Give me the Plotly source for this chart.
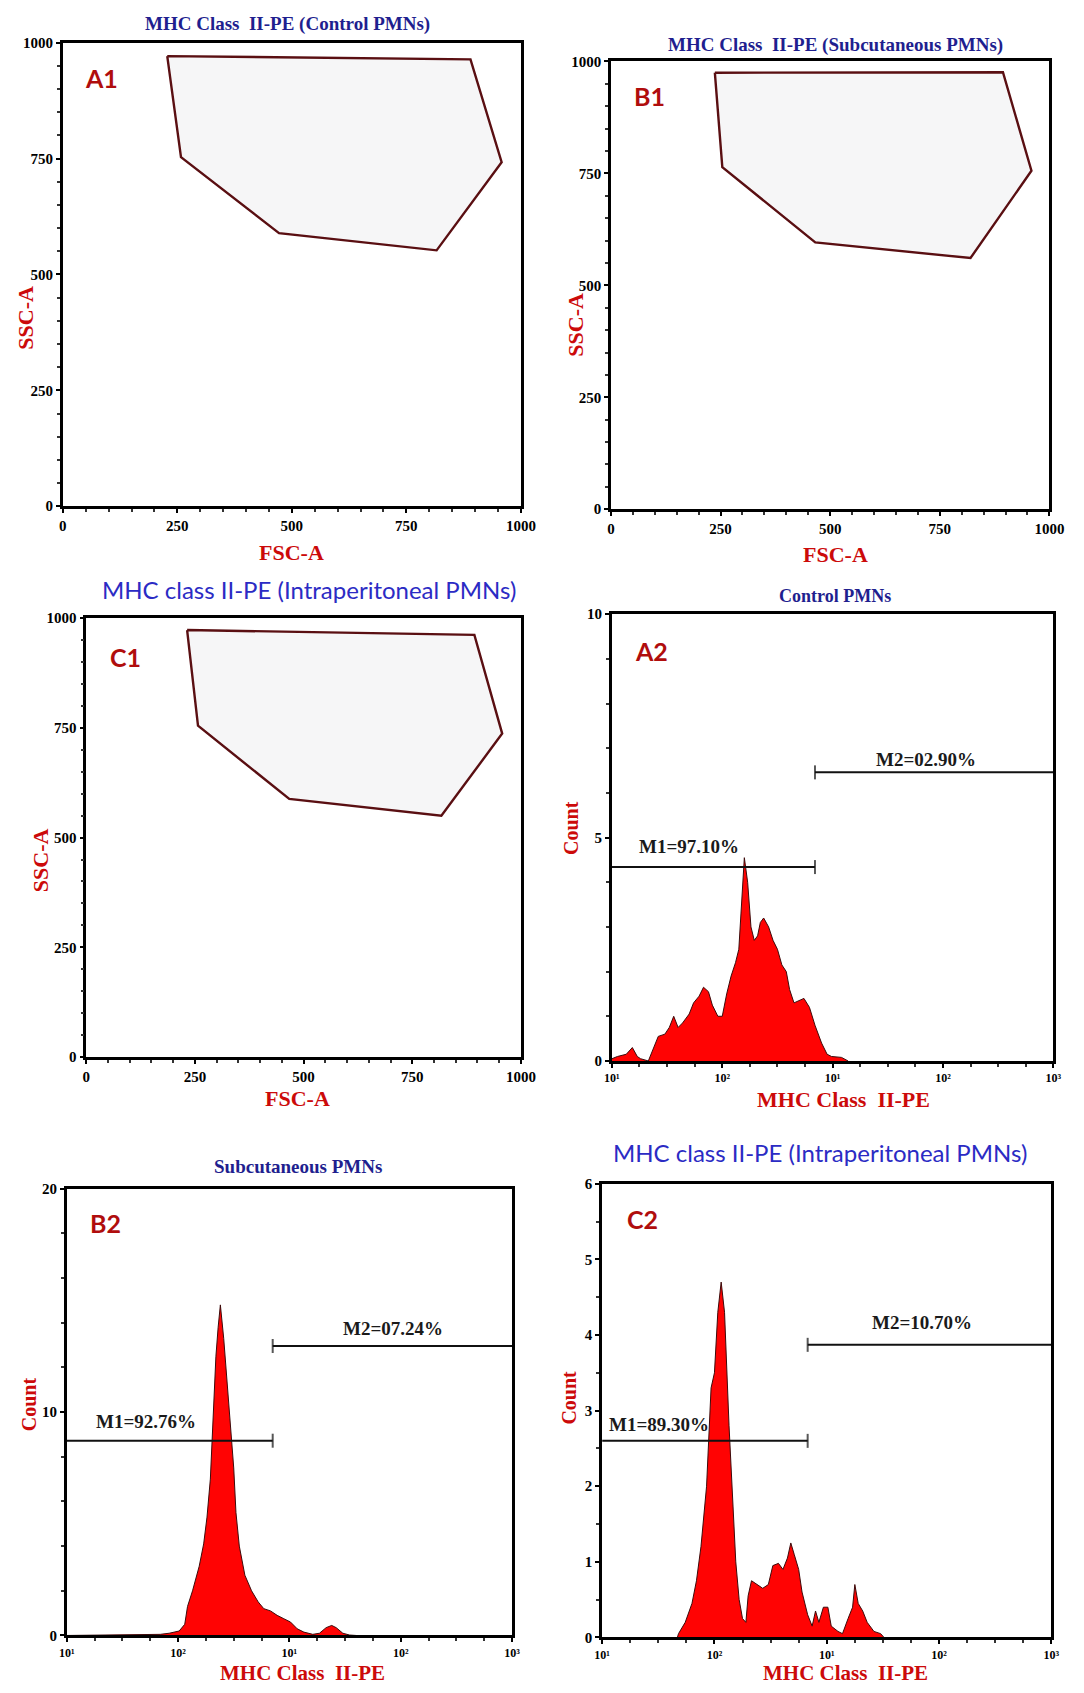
import plotly.graph_objects as go

W, H = 1084, 1693

# ---------------- data ----------------
fsc_ticks = [0, 250, 500, 750, 1000]
ssc_ticks = [0, 250, 500, 750, 1000]

gate_a1_fsc = [228, 890, 958, 816, 472, 258, 228]
gate_a1_ssc = [971, 964, 742, 552, 589, 753, 971]
gate_b1_fsc = [237, 894, 959, 820, 466, 254, 237]
gate_b1_ssc = [975, 976, 756, 561, 596, 764, 975]
gate_c1_fsc = [232, 893, 957, 817, 467, 257, 232]
gate_c1_ssc = [973, 962, 737, 550, 588, 755, 973]

hist_tick_pos = [0, 1, 2, 3, 4]
hist_tick_text = ["10¹", "10²", "10¹", "10²", "10³"]

a2_decade = [0, 0.05, 0.13, 0.185, 0.23, 0.26, 0.33, 0.376, 0.42, 0.48, 0.52, 0.56, 0.6, 0.64,
             0.7, 0.74, 0.79, 0.83, 0.875, 0.91, 0.96, 1.0, 1.04, 1.08, 1.12, 1.15, 1.18, 1.2,
             1.23, 1.26, 1.29, 1.32, 1.345, 1.375, 1.42, 1.46, 1.5, 1.54, 1.58, 1.61, 1.65,
             1.7, 1.74, 1.79, 1.84, 1.9, 1.95, 1.99, 2.08, 2.14]
a2_count = [0.05, 0.1, 0.15, 0.3, 0.1, 0.05, 0, 0.3, 0.55, 0.6, 0.75, 1.0, 0.75, 0.85,
            1.05, 1.3, 1.45, 1.65, 1.55, 1.25, 1.0, 1.0, 1.5, 1.9, 2.2, 2.5, 3.6, 4.55,
            4.0, 3.0, 2.7, 2.8, 3.1, 3.2, 3.0, 2.7, 2.5, 2.15, 2.0, 1.6, 1.3,
            1.35, 1.4, 1.2, 0.8, 0.4, 0.15, 0.1, 0.08, 0]

b2_decade = [0, 0.84, 0.92, 1.01, 1.06, 1.085, 1.13, 1.19, 1.23, 1.26, 1.29, 1.32, 1.34, 1.36,
             1.38, 1.41, 1.44, 1.47, 1.5, 1.52, 1.55, 1.6, 1.66, 1.72, 1.77, 1.83, 1.89,
             1.95, 2.01, 2.07, 2.13, 2.21, 2.27, 2.33, 2.38, 2.42, 2.48, 2.54, 2.6]
b2_count = [0, 0.05, 0.1, 0.2, 0.5, 1.3, 2.0, 3.1, 4.1, 5.3, 7.0, 10.0, 12.5, 13.8,
            14.8, 13.3, 11.5, 9.5, 7.5, 5.5, 4.0, 2.7, 2.0, 1.5, 1.2, 1.1, 0.9,
            0.75, 0.6, 0.3, 0.15, 0.05, 0.1, 0.35, 0.45, 0.35, 0.1, 0.02, 0]

c2_decade = [0.67, 0.68, 0.74, 0.8, 0.84, 0.88, 0.93, 0.97, 1.0, 1.03, 1.06, 1.09, 1.13, 1.16,
             1.19, 1.22, 1.25, 1.28, 1.3, 1.33, 1.38, 1.43, 1.48, 1.52, 1.57, 1.61, 1.65,
             1.68, 1.71, 1.75, 1.78, 1.83, 1.87, 1.9, 1.93, 1.97, 2.01, 2.04, 2.1, 2.14,
             2.19, 2.23, 2.25, 2.28, 2.32, 2.36, 2.42, 2.48, 2.51]
c2_count = [0, 0.05, 0.2, 0.45, 0.75, 1.2, 2.0, 3.3, 3.5, 4.3, 4.7, 4.3, 2.8, 1.8,
            1.0, 0.5, 0.25, 0.2, 0.55, 0.75, 0.7, 0.65, 0.7, 0.95, 0.98, 0.9, 1.05,
            1.25, 1.1, 0.9, 0.6, 0.3, 0.15, 0.35, 0.2, 0.4, 0.4, 0.15, 0.08, 0.05,
            0.25, 0.4, 0.7, 0.45, 0.35, 0.2, 0.08, 0.05, 0]

# marker gates: [start, end] in decades, height in counts, label
a2_m1 = ([0, 1.84], 4.34, "M1=97.10%")
a2_m2 = ([1.84, 4], 6.46, "M2=02.90%")
b2_m1 = ([0, 1.85], 8.72, "M1=92.76%")
b2_m2 = ([1.85, 4], 12.96, "M2=07.24%")
c2_m1 = ([0, 1.83], 2.60, "M1=89.30%")
c2_m2 = ([1.83, 4], 3.87, "M2=10.70%")

# ---------------- styles ----------------
SERIF = "Liberation Serif"
SANS = "Lato"
TITLE_NAVY = "#1f1f8f"
TITLE_BLUE = "#2b2bc4"
AX_RED = "#cc0a0a"
LABEL_RED = "#b00d0d"
GATE = "#5a0f12"
HIST_FILL = "#ff0303"
HIST_EDGE = "#3c0a0a"


def px_x(p):
    return p / W


def px_y(p):
    return 1 - p / H


# panel boxes in pixels: x0, x1, y0(top), y1(bottom)
boxes = {
    "A1": (56, 524, 35, 503),
    "B1": (616, 1064, 54, 506),
    "C1": (80, 524, 616, 1059),
    "A2": (617, 1068, 612, 1063),
    "B2": (60, 515, 1192, 1643),
    "C2": (607, 1066, 1187, 1645),
}
order = ["A1", "B1", "C1", "A2", "B2", "C2"]

fig = go.Figure()
layout = dict(width=W, height=H, margin=dict(l=0, r=0, t=0, b=0),
              paper_bgcolor="white", plot_bgcolor="white", showlegend=False)

annotations = []


def add_ann(text, x, y, size, color, family, bold=True, angle=0):
    annotations.append(dict(text=("<b>%s</b>" % text) if bold else text,
                            x=px_x(x), y=px_y(y), xref="paper", yref="paper",
                            showarrow=False, xanchor="center", yanchor="middle",
                            textangle=angle,
                            font=dict(family=family, size=size, color=color)))


def bold_list(vals):
    return ["<b>%s</b>" % v for v in vals]


for i, key in enumerate(order):
    n = "" if i == 0 else str(i + 1)
    x0, x1, y0, y1 = boxes[key]
    is_scatter = key.endswith("1")
    common = dict(showline=True, linecolor="black", linewidth=2.6, mirror=True,
                  showgrid=False, zeroline=False, ticks="outside", ticklen=4,
                  tickwidth=1.5, tickcolor="black",
                  tickfont=dict(family=SERIF, size=15 if is_scatter else 12, color="black"))
    if is_scatter:
        xa = dict(common, domain=[px_x(x0), px_x(x1)], range=[0, 1000],
                  tickmode="array", tickvals=fsc_ticks, ticktext=bold_list(fsc_ticks),
                  minor=dict(dtick=50, ticklen=3, tickcolor="#333", ticks="outside"),
                  anchor="y" + n)
        ya = dict(common, domain=[px_y(y1), px_y(y0)], range=[0, 1000],
                  tickmode="array", tickvals=ssc_ticks, ticktext=bold_list(ssc_ticks),
                  minor=dict(dtick=50, ticklen=3, tickcolor="#333", ticks="outside"),
                  anchor="x" + n)
    else:
        ymax = {"A2": 10, "B2": 20, "C2": 6}[key]
        ytv = {"A2": [0, 5, 10], "B2": [0, 10, 20], "C2": [0, 1, 2, 3, 4, 5, 6]}[key]
        ymin_dt = {"A2": 1, "B2": 2, "C2": 0.5}[key]
        xa = dict(common, domain=[px_x(x0), px_x(x1)], range=[0, 4],
                  tickmode="array", tickvals=hist_tick_pos, ticktext=bold_list(hist_tick_text),
                  minor=dict(dtick=0.25, ticklen=3, tickcolor="#333", ticks="outside"),
                  anchor="y" + n)
        ya = dict(common, domain=[px_y(y1), px_y(y0)], range=[0, ymax],
                  tickmode="array", tickvals=ytv, ticktext=bold_list(ytv),
                  tickfont=dict(family=SERIF, size=15, color="black"),
                  minor=dict(dtick=ymin_dt, ticklen=3, tickcolor="#333", ticks="outside"),
                  anchor="x" + n)
    layout["xaxis" + n] = xa
    layout["yaxis" + n] = ya

# ---------------- gates (scatter panels) ----------------
gates = {"A1": (gate_a1_fsc, gate_a1_ssc), "B1": (gate_b1_fsc, gate_b1_ssc),
         "C1": (gate_c1_fsc, gate_c1_ssc)}
for key, (gx, gy) in gates.items():
    i = order.index(key)
    n = "" if i == 0 else str(i + 1)
    fig.add_trace(go.Scatter(x=gx, y=gy, mode="lines", fill="toself",
                             fillcolor="rgba(165,165,178,0.10)",
                             line=dict(color=GATE, width=2.4),
                             xaxis="x" + n, yaxis="y" + n, hoverinfo="skip"))

# ---------------- histograms ----------------
hists = {"A2": (a2_decade, a2_count, a2_m1, a2_m2),
         "B2": (b2_decade, b2_count, b2_m1, b2_m2),
         "C2": (c2_decade, c2_count, c2_m1, c2_m2)}
for key, (hx, hy, m1, m2) in hists.items():
    i = order.index(key)
    n = str(i + 1)
    fig.add_trace(go.Scatter(x=hx, y=hy, mode="lines", fill="tozeroy",
                             fillcolor=HIST_FILL, line=dict(color=HIST_EDGE, width=1),
                             xaxis="x" + n, yaxis="y" + n, hoverinfo="skip"))
    for j, (mx, my, mtxt) in enumerate([m1, m2]):
        sizes = [0, 10] if j == 0 else [10, 0]
        fig.add_trace(go.Scatter(x=mx, y=[my, my], mode="lines+markers",
                                 line=dict(color="#111", width=2),
                                 marker=dict(symbol="line-ns", size=sizes,
                                             line=dict(color="#111", width=2)),
                                 xaxis="x" + n, yaxis="y" + n, hoverinfo="skip"))

# ---------------- text ----------------
add_ann("MHC Class  II-PE (Control PMNs)", 286, 16, 19, TITLE_NAVY, SERIF)
add_ann("MHC Class  II-PE (Subcutaneous PMNs)", 845, 37, 19, TITLE_NAVY, SERIF)
add_ann("MHC class II-PE (Intraperitoneal PMNs)", 308, 587, 24, TITLE_BLUE, SANS, bold=False)
add_ann("Control PMNs", 845, 594, 18, TITLE_NAVY, SERIF)
add_ann("Subcutaneous PMNs", 296, 1170, 19, TITLE_NAVY, SERIF)
add_ann("MHC class II-PE (Intraperitoneal PMNs)", 830, 1155, 24, TITLE_BLUE, SANS, bold=False)

for key, (x, y) in {"A1": (96, 71), "B1": (655, 89), "C1": (120, 655),
                    "A2": (657, 649), "B2": (100, 1227), "C2": (648, 1223)}.items():
    add_ann(key, x, y, 25, LABEL_RED, SANS)

add_ann("SSC-A", 17, 313, 22, AX_RED, SERIF, angle=-90)
add_ann("FSC-A", 290, 550, 22, AX_RED, SERIF)
add_ann("SSC-A", 580, 320, 22, AX_RED, SERIF, angle=-90)
add_ann("FSC-A", 845, 552, 22, AX_RED, SERIF)
add_ann("SSC-A", 34, 860, 22, AX_RED, SERIF, angle=-90)
add_ann("FSC-A", 296, 1101, 22, AX_RED, SERIF)
add_ann("Count", 575, 828, 20, AX_RED, SERIF, angle=-90)
add_ann("MHC Class  II-PE", 854, 1102, 22, AX_RED, SERIF)
add_ann("Count", 21, 1410, 20, AX_RED, SERIF, angle=-90)
add_ann("MHC Class  II-PE", 301, 1681, 21, AX_RED, SERIF)
add_ann("Count", 573, 1403, 20, AX_RED, SERIF, angle=-90)
add_ann("MHC Class  II-PE", 856, 1681, 21, AX_RED, SERIF)

for (x, y), txt in [((696, 847), a2_m1[2]), ((938, 759), a2_m2[2]),
                    ((141, 1427), b2_m1[2]), ((393, 1333), b2_m2[2]),
                    ((665, 1430), c2_m1[2]), ((934, 1327), c2_m2[2])]:
    add_ann(txt, x, y, 19, "#1a1a1a", SERIF)

layout["annotations"] = annotations
fig.update_layout(**layout)
fig.write_html("out.html", config={"displayModeBar": False},
               post_script="document.body.style.margin='0px';")
